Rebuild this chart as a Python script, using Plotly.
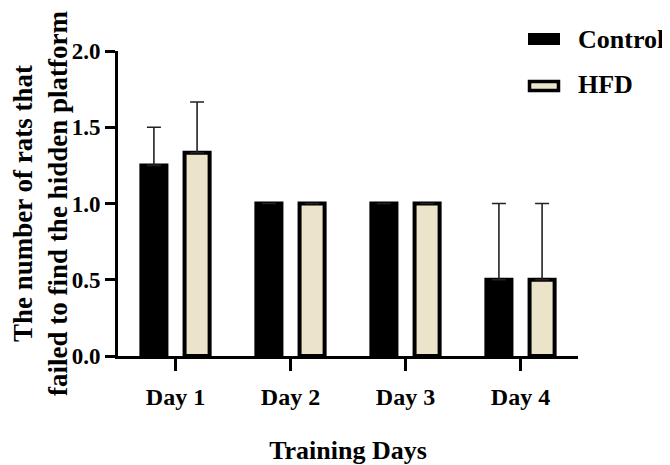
import plotly.graph_objects as go

days = ["Day 1", "Day 2", "Day 3", "Day 4"]
control_mean = [1.25, 1.0, 1.0, 0.5]
control_err = [0.25, 0.0, 0.0, 0.5]
hfd_mean = [1.333, 1.0, 1.0, 0.5]
hfd_err = [0.333, 0.0, 0.0, 0.5]
y_ticks = [0.0, 0.5, 1.0, 1.5, 2.0]
y_ticklabels = ["0.0", "0.5", "1.0", "1.5", "2.0"]

FONT = "Liberation Serif, Times New Roman, serif"
BEIGE = "#EBE4CA"

fig = go.Figure()
fig.add_trace(go.Bar(
    x=days, y=control_mean, name="Control",
    marker=dict(color="black", line=dict(color="black", width=4)),
    error_y=dict(type="data", array=control_err, arrayminus=[0] * 4, symmetric=False,
                 color="#222222", thickness=1.6, width=7),
    showlegend=False,
))
fig.add_trace(go.Bar(
    x=days, y=hfd_mean, name="HFD",
    marker=dict(color=BEIGE, line=dict(color="black", width=4)),
    error_y=dict(type="data", array=hfd_err, arrayminus=[0] * 4, symmetric=False,
                 color="#222222", thickness=1.6, width=7),
    showlegend=False,
))

# page is shown with an 8px body margin, so figure coords = page coords - 8
OFF = 8
W, H = 670 - OFF, 465 - OFF
L, T = 118 - OFF, 51 - OFF
R = W - (578 - OFF)
B = H - (356 - OFF)
pw, ph = W - L - R, H - T - B

def px_x(px):
    return (px - OFF - L) / pw

def px_y(py):
    return (H - B - (py - OFF)) / ph

# Legend drawn manually to match the wide swatches
fig.add_shape(type="rect", xref="paper", yref="paper",
              x0=px_x(528), x1=px_x(560), y0=px_y(45), y1=px_y(33),
              fillcolor="black", line=dict(color="black", width=0))
fig.add_shape(type="rect", xref="paper", yref="paper",
              x0=px_x(529.5), x1=px_x(558.5), y0=px_y(90.5), y1=px_y(81.5),
              fillcolor=BEIGE, line=dict(color="black", width=3.5))
fig.add_annotation(xref="paper", yref="paper", x=px_x(576), y=px_y(39),
                   xanchor="left", yanchor="middle", showarrow=False,
                   text="Control", font=dict(family=FONT, size=26, color="black", weight="bold"))
fig.add_annotation(xref="paper", yref="paper", x=px_x(576), y=px_y(85),
                   xanchor="left", yanchor="middle", showarrow=False,
                   text="HFD", font=dict(family=FONT, size=26, color="black", weight="bold"))

fig.update_layout(
    width=W, height=H,
    margin=dict(l=L, r=R, t=T, b=B, autoexpand=False),
    paper_bgcolor="white", plot_bgcolor="white",
    barmode="group", bargap=0.249, bargroupgap=0.42,
    font=dict(family=FONT, color="black"),
    xaxis=dict(
        range=[-0.5, 3.5], showline=True, linecolor="black", linewidth=3,
        ticks="outside", ticklen=12, tickwidth=3, tickcolor="black",
        ticklabelstandoff=5, automargin=False,
        tickfont=dict(family=FONT, size=24, color="black", weight="bold"),
        showgrid=False, zeroline=False,
        title=dict(text="Training Days", standoff=36,
                   font=dict(family=FONT, size=26, color="black", weight="bold")),
    ),
    yaxis=dict(
        range=[0, 2], tickvals=y_ticks, ticktext=y_ticklabels,
        showline=True, linecolor="black", linewidth=3,
        ticks="outside", ticklen=10, tickwidth=3, tickcolor="black",
        automargin=False,
        tickfont=dict(family=FONT, size=23, color="black", weight="bold"),
        showgrid=False, zeroline=False,
        title=dict(text="The number of rats that<br>failed to find the hidden platform", standoff=32,
                   font=dict(family=FONT, size=27, color="black", weight="bold")),
    ),
)

fig.write_html("out.html")
